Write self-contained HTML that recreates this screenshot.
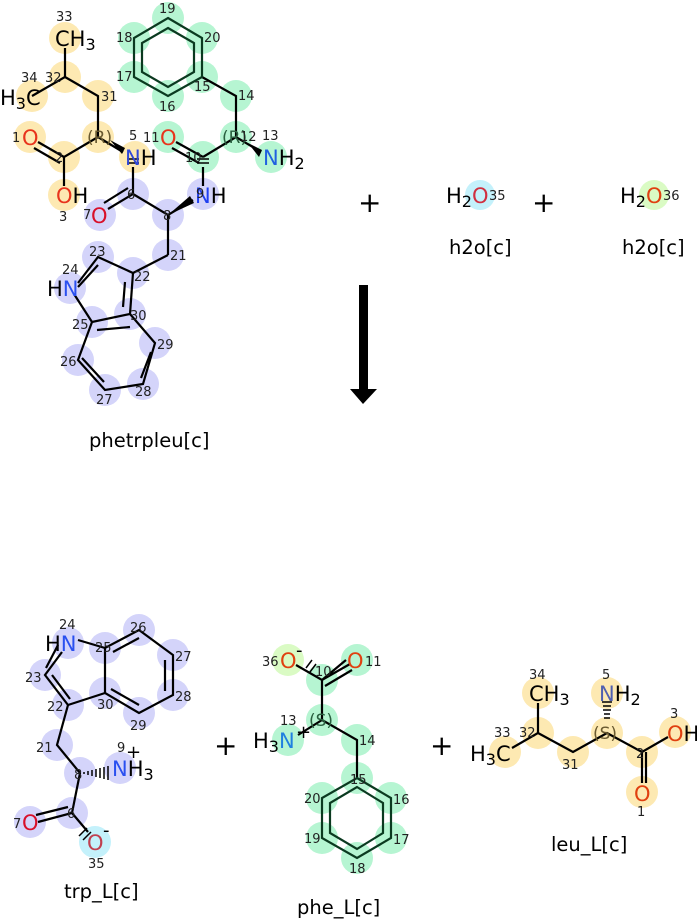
<!DOCTYPE html>
<html><head><meta charset="utf-8"><style>
html,body{margin:0;padding:0;background:#fff;width:697px;height:920px;overflow:hidden}
svg{display:block}
text{font-family:"DejaVu Sans","Liberation Sans",sans-serif}
.n{font-size:13px;fill:#222}
.a{font-size:21px}
.l{font-size:19.5px;fill:#000}
.b{stroke:#000;stroke-width:2.2;fill:none}
.g{stroke:#0b3a20}
</style></head><body>
<svg width="697" height="920" viewBox="0 0 697 920" xmlns="http://www.w3.org/2000/svg">
<g fill="#fde9b2">
<circle cx="65" cy="38" r="16"/><circle cx="65" cy="77" r="16"/><circle cx="32" cy="96" r="16"/><circle cx="98" cy="96" r="16"/><circle cx="98" cy="137" r="16"/><circle cx="30" cy="137" r="16"/><circle cx="64" cy="157" r="16"/><circle cx="64" cy="195" r="16"/><circle cx="135" cy="157" r="16"/>
<circle cx="538" cy="693" r="16"/><circle cx="538" cy="733" r="16"/><circle cx="505" cy="752" r="16"/><circle cx="573" cy="752" r="16"/><circle cx="607" cy="733" r="16"/><circle cx="607" cy="693" r="16"/><circle cx="642" cy="752" r="16"/><circle cx="675" cy="732" r="16"/><circle cx="642" cy="792" r="16"/>
</g>
<g fill="#b6f5d2">
<circle cx="168" cy="18" r="16"/><circle cx="202" cy="38" r="16"/><circle cx="202" cy="77" r="16"/><circle cx="168" cy="96" r="16"/><circle cx="134" cy="77" r="16"/><circle cx="134" cy="38" r="16"/><circle cx="236" cy="96" r="16"/><circle cx="236" cy="137" r="16"/><circle cx="271" cy="157" r="16"/><circle cx="203" cy="157" r="16"/><circle cx="168" cy="137" r="16"/>
<circle cx="322" cy="680" r="16"/><circle cx="357" cy="660" r="16"/><circle cx="322" cy="720" r="16"/><circle cx="288" cy="740" r="16"/><circle cx="357" cy="740" r="16"/><circle cx="357" cy="778" r="16"/><circle cx="391" cy="798" r="16"/><circle cx="391" cy="838" r="16"/><circle cx="357" cy="858" r="16"/><circle cx="322" cy="838" r="16"/><circle cx="322" cy="798" r="16"/>
</g>
<g fill="#d4d4fa">
<circle cx="133" cy="194" r="16"/><circle cx="100" cy="215" r="16"/><circle cx="168" cy="215" r="16"/><circle cx="203" cy="194" r="16"/><circle cx="168" cy="255" r="16"/><circle cx="133" cy="273" r="16"/><circle cx="98" cy="257" r="16"/><circle cx="70" cy="288" r="16"/><circle cx="92" cy="322" r="16"/><circle cx="130" cy="314" r="16"/><circle cx="155" cy="343" r="16"/><circle cx="143" cy="384" r="16"/><circle cx="105" cy="390" r="16"/><circle cx="78" cy="360" r="16"/>
<circle cx="68" cy="643" r="16"/><circle cx="105" cy="648" r="16"/><circle cx="139" cy="630" r="16"/><circle cx="173" cy="655" r="16"/><circle cx="173" cy="695" r="16"/><circle cx="139" cy="713" r="16"/><circle cx="105" cy="693" r="16"/><circle cx="68" cy="705" r="16"/><circle cx="45" cy="675" r="16"/><circle cx="57" cy="745" r="16"/><circle cx="80" cy="773" r="16"/><circle cx="120" cy="768" r="16"/><circle cx="72" cy="813" r="16"/><circle cx="30" cy="822" r="16"/>
</g>
<circle cx="480" cy="195" r="15" fill="#c4f1fb"/><circle cx="95" cy="842" r="16" fill="#c4f1fb"/>
<circle cx="654" cy="195" r="15" fill="#dafbc4"/><circle cx="288" cy="660" r="16" fill="#dafbc4"/>

<g class="b">
<path d="M65 48V77L32 96M65 77L98 96V137L64 157V186M98 137L123 152"/>
<path d="M64 157L38 142M60 163L34 148"/>
<path d="M133 167V194L108 209M128 188L104 203M133 194L168 215L193 200M168 215V255"/>
<path d="M203 167V186M203 157L236 137L261 152M203 157L176 142M199 163L172 148M236 137V96L202 77"/>
<path d="M168 255L133 273L98 257L78 283M74 294L92 322L130 314L133 273M125 282L123 307M130 314L155 343L143 384L105 390L78 360L92 322M151 352L141 378M104 382L82 358M97 330L130 327"/>
<path d="M98 265L78 287"/>
<path d="M127 159h12M127 163h12M197 159h12M197 163h12" stroke-width="1.5"/>
</g>
<g class="b g">
<path d="M168 18L202 38V77L168 96L134 77V38Z"/>
<path d="M168 28L194 43V72L168 87L142 72V43Z"/>
</g>
<polygon points="110,140 125,148 122,154" fill="#000"/>
<polygon points="168,215 190,196 194,203" fill="#000"/>
<polygon points="248,143 262,150 259,157" fill="#000"/>

<g class="b">
<path d="M78 640L105 648L139 630L173 655V695L139 713L105 693V648M113 652L139 638M165 660V691M139 705L111 689"/>
<path d="M62 652L45 675L68 705L105 693M52 675L70 699M58 645L46 668"/>
<path d="M68 705L57 745L80 773L72 813L38 822M68 807L36 815M72 813L88 832"/>
<path d="M79 836l8-8M83 840l8-8" stroke-width="1.5"/>
</g>
<g stroke="#000" stroke-width="1.5"><path d="M84 772v2M88 771v4M92 770v6M96 769v8M100 768v10M104 767v12M108 766v14"/></g>
<g class="b">
<path d="M296 665L322 680L350 664M322 680L346 660M325 686L352 670M322 680V720L357 740V778M322 720L298 735"/>
<path d="M306 668l6-8M310 672l6-8" stroke-width="1.5"/>
</g>
<g class="b g"><path d="M357 778L391 798V838L357 858L322 838V798Z"/><path d="M357 787L383 803V833L357 849L330 833V803Z"/></g>
<g class="b">
<path d="M538 703V733L512 748M538 733L573 752L607 733L642 752L668 737M642 752V783M646 752V783"/>
</g>
<g stroke="#000" stroke-width="1.5"><path d="M604 718h6M604 714h6M603 710h8M603 706h8M602 702h10"/></g>

<g class="a">
<text x="55" y="46" fill="#000">CH<tspan font-size="16" dy="4">3</tspan></text>
<text x="0" y="105" fill="#000">H<tspan font-size="16" dy="4">3</tspan><tspan dy="-4">C</tspan></text>
<text x="22" y="145" fill="#e8341c">O</text>
<text x="56" y="203" fill="#e8341c">O<tspan fill="#000">H</tspan></text>
<text x="125" y="165" fill="#3048d8">N<tspan fill="#000">H</tspan></text>
<text x="91" y="223" fill="#d8102a">O</text>
<text x="195" y="203" fill="#2040f0">N<tspan fill="#000">H</tspan></text>
<text x="160" y="145" fill="#e8341c">O</text>
<text x="263" y="165" fill="#2060e0">N<tspan fill="#000">H</tspan><tspan fill="#000" font-size="16" dy="4">2</tspan></text>
<text x="87" y="143" font-size="17" fill="#6a5a30">(R)</text>
<text x="222" y="143" font-size="17" fill="#2a6040">(R)</text>
<text x="47" y="296" fill="#000">H<tspan fill="#2a50f0">N</tspan></text>
<text x="446" y="203" fill="#000">H<tspan font-size="16" dy="4">2</tspan><tspan dy="-4" fill="#d03040">O</tspan></text>
<text x="620" y="203" fill="#000">H<tspan font-size="16" dy="4">2</tspan><tspan dy="-4" fill="#e04010">O</tspan></text>
<text x="45" y="651" fill="#000">H<tspan fill="#2a50f0">N</tspan></text>
<text x="112" y="776" fill="#2a50f0">N<tspan fill="#000">H</tspan><tspan fill="#000" font-size="16" dy="4">3</tspan></text>
<text x="22" y="830" fill="#d8102a">O</text>
<text x="87" y="850" fill="#c04050">O</text>
<text x="280" y="668" fill="#e04010">O</text>
<text x="347" y="668" fill="#e04010">O</text>
<text x="253" y="748" fill="#000">H<tspan font-size="16" dy="4">3</tspan><tspan dy="-4" fill="#2080e0">N</tspan></text>
<text x="309" y="726" font-size="17" fill="#2a6040">(S)</text>
<text x="529" y="701" fill="#000">CH<tspan font-size="16" dy="4">3</tspan></text>
<text x="470" y="761" fill="#000">H<tspan font-size="16" dy="4">3</tspan><tspan dy="-4">C</tspan></text>
<text x="599" y="701" fill="#5060b0">N<tspan fill="#000">H</tspan><tspan fill="#000" font-size="16" dy="4">2</tspan></text>
<text x="667" y="741" fill="#e04010">O<tspan fill="#000">H</tspan></text>
<text x="634" y="801" fill="#e04010">O</text>
<text x="593" y="739" font-size="17" fill="#6a5a30">(S)</text>
</g>
<g style="font-size:18px" fill="#000"><text x="126" y="758">+</text><text x="296" y="738">+</text><text x="103" y="836">-</text><text x="296" y="656">-</text></g>

<g class="n">
<text x="56" y="21">33</text><text x="45" y="82">32</text><text x="21" y="82">34</text><text x="101" y="101">31</text><text x="12" y="142">1</text><text x="55" y="162">2</text><text x="59" y="221">3</text><text x="129" y="140">5</text><text x="143" y="142">11</text><text x="185" y="162">10</text><text x="240" y="141">12</text><text x="262" y="140">13</text><text x="238" y="100">14</text><text x="194" y="91">15</text><text x="159" y="111">16</text><text x="116" y="81">17</text><text x="116" y="42">18</text><text x="159" y="13">19</text><text x="204" y="42">20</text><text x="127" y="199">6</text><text x="83" y="219">7</text><text x="163" y="220">8</text><text x="196" y="198">9</text><text x="170" y="260">21</text><text x="134" y="281">22</text><text x="89" y="256">23</text><text x="62" y="274">24</text><text x="72" y="329">25</text><text x="60" y="366">26</text><text x="96" y="404">27</text><text x="135" y="396">28</text><text x="157" y="349">29</text><text x="130" y="320">30</text>
<text x="489" y="200">35</text><text x="663" y="200">36</text>
<text x="59" y="629">24</text><text x="95" y="652">25</text><text x="130" y="632">26</text><text x="175" y="661">27</text><text x="175" y="701">28</text><text x="130" y="730">29</text><text x="97" y="709">30</text><text x="47" y="711">22</text><text x="25" y="682">23</text><text x="36" y="752">21</text><text x="74" y="779">8</text><text x="117" y="752">9</text><text x="67" y="818">6</text><text x="13" y="828">7</text><text x="88" y="868">35</text>
<text x="262" y="666">36</text><text x="315" y="676">10</text><text x="365" y="666">11</text><text x="280" y="725">13</text><text x="359" y="745">14</text><text x="350" y="784">15</text><text x="393" y="804">16</text><text x="393" y="844">17</text><text x="349" y="873">18</text><text x="304" y="843">19</text><text x="304" y="803">20</text>
<text x="529" y="679">34</text><text x="519" y="737">32</text><text x="494" y="737">33</text><text x="562" y="769">31</text><text x="602" y="679">5</text><text x="636" y="758">2</text><text x="670" y="718">3</text><text x="637" y="816">1</text>
</g>

<g fill="#000" style="font-size:28px;font-family:'DejaVu Sans',sans-serif"><text x="358" y="212">+</text><text x="532" y="212">+</text><text x="214" y="755">+</text><text x="430" y="755">+</text></g>
<rect x="359" y="285" width="9" height="105" fill="#000"/>
<polygon points="350,389 377,389 363,404" fill="#000"/>
<g class="l">
<text x="89" y="447">phetrpleu[c]</text>
<text x="449" y="254">h2o[c]</text><text x="622" y="254">h2o[c]</text>
<text x="64" y="898">trp_L[c]</text><text x="297" y="914">phe_L[c]</text><text x="551" y="851">leu_L[c]</text>
</g>
</svg>
</body></html>
